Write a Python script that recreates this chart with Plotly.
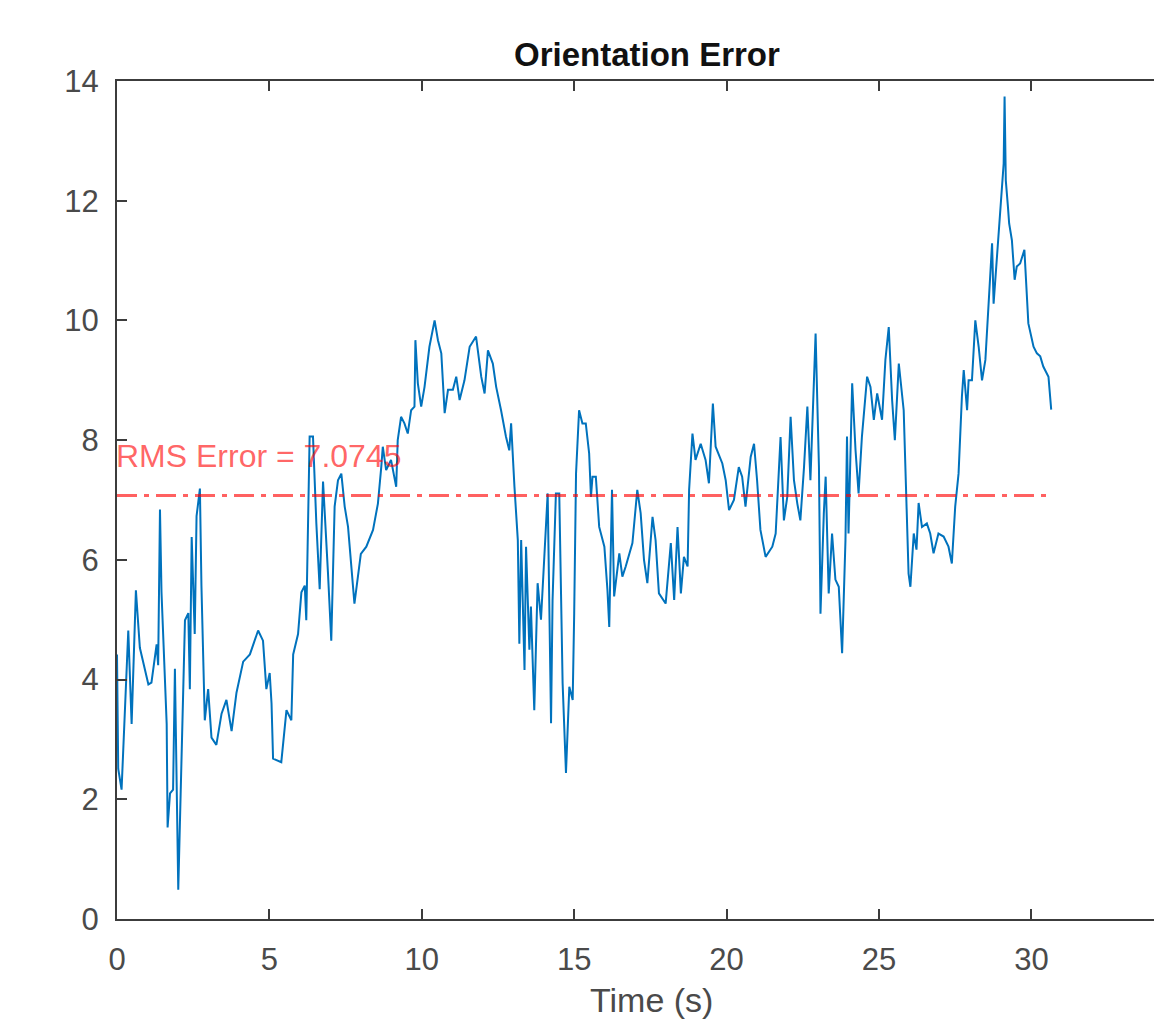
import plotly.graph_objects as go

# ---- data ----
time_s = [
    0.00, 0.04, 0.15, 0.37, 0.48, 0.62, 0.75, 1.03, 1.13, 1.30, 1.35, 1.41, 1.46, 1.63, 1.66, 1.74, 1.84, 1.90,
    2.01, 2.12, 2.23, 2.34, 2.39, 2.45, 2.55, 2.61, 2.72, 2.77, 2.88, 2.99, 3.10, 3.26, 3.43, 3.59, 3.76, 3.92,
    4.14, 4.36, 4.63, 4.79, 4.90, 5.01, 5.07, 5.12, 5.39, 5.56, 5.72, 5.78, 5.94, 6.05, 6.16, 6.21, 6.32, 6.43,
    6.54, 6.65, 6.76, 6.92, 7.03,
    7.14, 7.25, 7.36, 7.47, 7.58, 7.79, 8.00, 8.18, 8.40, 8.56, 8.67, 8.72, 8.83, 8.99, 9.16, 9.21, 9.32, 9.43,
    9.54, 9.65, 9.76, 9.79, 9.87, 9.98, 10.09, 10.25, 10.42, 10.53, 10.64, 10.75, 10.86, 11.02, 11.13, 11.24,
    11.40, 11.57, 11.78, 11.95, 12.06, 12.17, 12.33, 12.44, 12.60, 12.76, 12.87, 12.93, 13.04, 13.15, 13.20,
    13.26, 13.37, 13.42, 13.53, 13.58, 13.69, 13.80, 13.91, 14.02, 14.13, 14.24, 14.29, 14.40, 14.51, 14.62,
    14.73, 14.84, 14.95,
    15.00, 15.06, 15.16, 15.27, 15.38, 15.49, 15.55, 15.60, 15.71, 15.82, 15.99, 16.09, 16.15, 16.24, 16.31,
    16.48, 16.58, 16.69, 16.91, 17.07, 17.18, 17.29, 17.40, 17.57, 17.67, 17.78, 18.00, 18.17, 18.28, 18.39,
    18.50, 18.60, 18.72, 18.77, 18.88, 18.98, 19.15, 19.31, 19.42, 19.55, 19.64, 19.86, 19.97, 20.08, 20.24,
    20.40, 20.51, 20.62, 20.79, 20.90, 21.00, 21.11, 21.28, 21.50, 21.61, 21.77, 21.88, 21.99, 22.10, 22.21,
    22.32, 22.42,
    22.54, 22.65, 22.75, 22.92, 23.03, 23.08, 23.19, 23.25, 23.35, 23.46, 23.57, 23.68, 23.79, 23.90, 23.95,
    24.00, 24.12, 24.23, 24.33, 24.44, 24.61, 24.72, 24.83, 24.94, 25.10, 25.21, 25.32, 25.43, 25.52, 25.65,
    25.81, 25.92, 25.97, 26.03, 26.14, 26.23, 26.30, 26.41, 26.57, 26.68, 26.79, 26.95, 27.12, 27.28, 27.39,
    27.50,
    27.61, 27.72, 27.78, 27.89, 27.94, 28.05, 28.16, 28.27, 28.38, 28.49, 28.60, 28.71, 28.76, 28.87, 28.98,
    29.09, 29.12, 29.16, 29.23, 29.27, 29.36, 29.45, 29.52, 29.63, 29.77, 29.90, 30.07, 30.18, 30.29, 30.39,
    30.56, 30.65,
]
orientation_error = [
    4.42, 2.51, 2.16, 4.82, 3.26, 5.49, 4.53, 3.92, 3.95, 4.59, 4.24, 6.84, 5.46, 3.26, 1.53, 2.10, 2.16, 4.18,
    0.49, 2.68, 4.99, 5.11, 3.84, 6.38, 4.76, 6.73, 7.19, 5.57, 3.32, 3.84, 3.03, 2.91, 3.43, 3.66, 3.14, 3.78,
    4.30, 4.42, 4.82, 4.65, 3.84, 4.11, 3.60, 2.68, 2.62, 3.49, 3.32, 4.42, 4.76, 5.46, 5.57, 4.99, 8.06, 8.06,
    6.61, 5.51, 7.31, 5.80, 4.65,
    6.89, 7.33, 7.44, 6.89, 6.55, 5.27, 6.10, 6.22, 6.50, 6.94, 7.55, 7.89, 7.50, 7.67, 7.22, 8.00, 8.39, 8.28,
    8.11, 8.50, 8.56, 9.67, 8.95, 8.56, 8.89, 9.56, 10.00, 9.67, 9.45, 8.45, 8.84, 8.84, 9.06, 8.67,
    9.00, 9.56, 9.73, 9.06, 8.78, 9.50, 9.28, 8.89, 8.50, 8.06, 7.83, 8.28, 7.22, 6.33, 4.60,
    6.33, 4.16, 6.22, 4.50, 5.22, 3.49, 5.61, 5.00, 6.11, 7.11, 3.27, 5.33, 7.11, 7.11, 3.94,
    2.44, 3.88, 3.66,
    5.11, 7.44, 8.50, 8.28, 8.28, 7.78, 7.05, 7.39, 7.39, 6.55, 6.22, 5.50, 4.88, 7.17, 5.39,
    6.11, 5.72, 5.89, 6.28, 7.17, 6.78, 6.00, 5.61, 6.72, 6.33, 5.44, 5.27, 6.28, 5.33, 6.55,
    5.44, 6.05, 5.89, 7.17, 8.11, 7.67, 7.94, 7.67, 7.28, 8.61, 7.89, 7.61, 7.33, 6.83, 7.00,
    7.55, 7.39, 6.89, 7.72, 7.94, 7.33, 6.50, 6.05, 6.22, 6.44, 8.05, 6.66, 7.05, 8.39, 7.33,
    6.94, 6.66,
    7.55, 8.56, 7.33, 9.78, 7.55, 5.10, 6.78, 7.39, 5.44, 6.44, 5.67, 5.55, 4.44, 6.33, 8.06,
    6.44, 8.95, 7.83, 7.11, 8.06, 9.06, 8.89, 8.34, 8.78, 8.34, 9.34, 9.89, 8.67, 8.00, 9.28,
    8.50, 6.33, 5.77, 5.55, 6.44, 6.17, 6.95, 6.55, 6.61, 6.44, 6.11, 6.44, 6.39, 6.22, 5.94,
    6.89,
    7.44, 8.73, 9.17, 8.50, 9.00, 9.00, 10.00, 9.56, 9.00, 9.34, 10.23, 11.29, 10.28, 11.07, 11.79,
    12.62, 13.74, 12.34, 11.90, 11.62, 11.34, 10.68, 10.90, 10.95, 11.18, 9.95, 9.56, 9.45, 9.40, 9.23,
    9.06, 8.51,
]
rms_error = 7.0745
title_text = "Orientation Error"
x_label = "Time (s)"
x_ticks = [0, 5, 10, 15, 20, 25, 30]
y_ticks = [0, 2, 4, 6, 8, 10, 12, 14]

FONT = "Liberation Sans, Arial, Helvetica, sans-serif"
RED = "rgba(255,0,0,0.62)"
AXIS = "#3c3c3c"
TICKTXT = "#4a4a4a"

W, H = 1154, 1024
L, T, B = 117, 81, 105
PLOT_H = H - T - B
px_per_unit = 30.48

fig = go.Figure()
fig.add_trace(go.Scatter(
    x=time_s, y=orientation_error, mode="lines",
    line=dict(color="#0072BD", width=2), showlegend=False, hoverinfo="skip",
))
fig.add_trace(go.Scatter(
    x=[time_s[0], time_s[-1]], y=[rms_error, rms_error], mode="lines",
    line=dict(color=RED, width=3, dash="20px,7px,5px,7px"), showlegend=False, hoverinfo="skip",
))

fig.add_annotation(
    x=0, y=rms_error + 0.66, xref="x", yref="y", xanchor="left", yanchor="middle",
    text=f"RMS Error = {rms_error:.4f}", showarrow=False, xshift=-3,
    font=dict(family=FONT, size=32, color=RED),
)
# title centred over the full (partly cropped) axes
fig.add_annotation(
    x=(647 - L) / (W - L), y=1 + (T - 55) / PLOT_H, xref="paper", yref="paper",
    xanchor="center", yanchor="middle",
    text=f"<b>{title_text}</b>", showarrow=False,
    font=dict(family=FONT, size=33, color="#111111"),
)
fig.add_annotation(
    x=17.55, y=-(1000 - (H - B)) / PLOT_H, xref="x", yref="paper", xanchor="center", yanchor="middle",
    text=x_label, showarrow=False,
    font=dict(family=FONT, size=34, color=TICKTXT),
)

fig.update_layout(
    width=W, height=H,
    margin=dict(l=L, r=0, t=T, b=B, pad=0),
    paper_bgcolor="white", plot_bgcolor="white",
    font=dict(family=FONT),
)

fig.update_xaxes(
    range=[0, (W - L) / px_per_unit], tickvals=x_ticks,
    showline=True, linecolor=AXIS, linewidth=2, mirror="ticks",
    ticks="inside", ticklen=10, tickwidth=1.6, tickcolor=AXIS,
    tickfont=dict(family=FONT, size=31, color=TICKTXT),
    ticklabelstandoff=12,
    showgrid=False, zeroline=False, fixedrange=True,
)
fig.update_yaxes(
    range=[0, 14], tickvals=y_ticks,
    showline=True, linecolor=AXIS, linewidth=2, mirror=False,
    ticks="inside", ticklen=10, tickwidth=1.6, tickcolor=AXIS,
    tickfont=dict(family=FONT, size=31, color=TICKTXT),
    ticklabelstandoff=10,
    showgrid=False, zeroline=False, fixedrange=True,
)

fig.write_html("out.html")
